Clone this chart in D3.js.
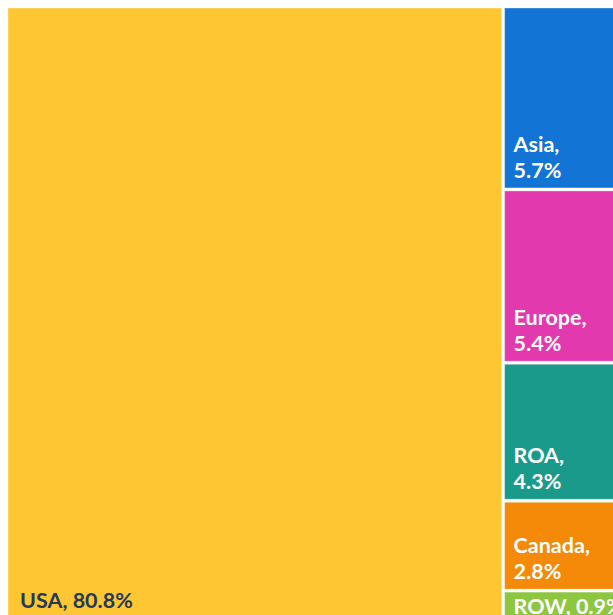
<!DOCTYPE html>
<html>
<head>
<meta charset="utf-8">
<script src="https://cdn.jsdelivr.net/npm/d3@7"></script>
<style>
  html, body { margin: 0; padding: 0; background: #fff; overflow: hidden; }
  .cell-label { font-family: Lato, "Open Sans", sans-serif; font-weight: 700; font-size: 21.5px; }
</style>
</head>
<body>
<div id="chart"></div>
<script>
// DATA
const regions = ["USA", "Asia", "Europe", "ROA", "Canada", "ROW"];
const shares = [80.8, 5.7, 5.4, 4.3, 2.8, 0.9];
const regionColors = ["#fec633", "#1274d4", "#e339ae", "#1a9a8b", "#f48a08", "#8dc63f"];
const labelColors = ["#253858", "#fff", "#fff", "#fff", "#fff", "#fff"];

const svgWidth = 613, svgHeight = 615;
const margin = { top: 8, left: 8 };

var svg = d3
  .select("#chart")
  .append("svg")
  .attr("width", svgWidth)
  .attr("height", svgHeight);

var g = svg
  .append("g")
  .attr("transform", `translate(${margin.left}, ${margin.top})`);

var root = d3
  .hierarchy({
    children: regions.map((r, i) => ({ name: r, value: shares[i], idx: i })),
  })
  .sum((d) => d.value || 0);

d3.treemap()
  .tile(d3.treemapSquarify)
  .size([611, 610])
  .paddingInner(3)(root);

var cells = g
  .selectAll(".cell")
  .data(root.leaves())
  .enter()
  .append("g")
  .attr("class", "cell")
  .attr("transform", (d) => `translate(${d.x0}, ${d.y0})`);

cells
  .append("rect")
  .attr("width", (d) => d.x1 - d.x0)
  .attr("height", (d) => d.y1 - d.y0)
  .attr("fill", (d) => regionColors[d.data.idx])
  .attr("stroke", "rgba(255,255,255,0.35)")
  .attr("stroke-width", 1);

// LABELS - bottom left, wrapped onto two lines when the cell is narrow
const lineH = 26;
cells.each(function (d) {
  var cell = d3.select(this);
  var w = d.x1 - d.x0, h = d.y1 - d.y0;
  var padX = w > 200 ? 12 : 9;
  var padY = h < 40 ? 4 : 10;
  var full = `${d.data.name}, ${d.data.value}%`;
  var lines = w < 200 && h > 2 * lineH + 10
    ? [`${d.data.name},`, `${d.data.value}%`]
    : [full];
  var text = cell
    .append("text")
    .attr("class", "cell-label")
    .attr("fill", labelColors[d.data.idx]);
  lines.forEach((l, i) => {
    text
      .append("tspan")
      .attr("x", padX)
      .attr("y", h - padY - (lines.length - 1 - i) * lineH)
      .text(l);
  });
});
</script>
</body>
</html>
